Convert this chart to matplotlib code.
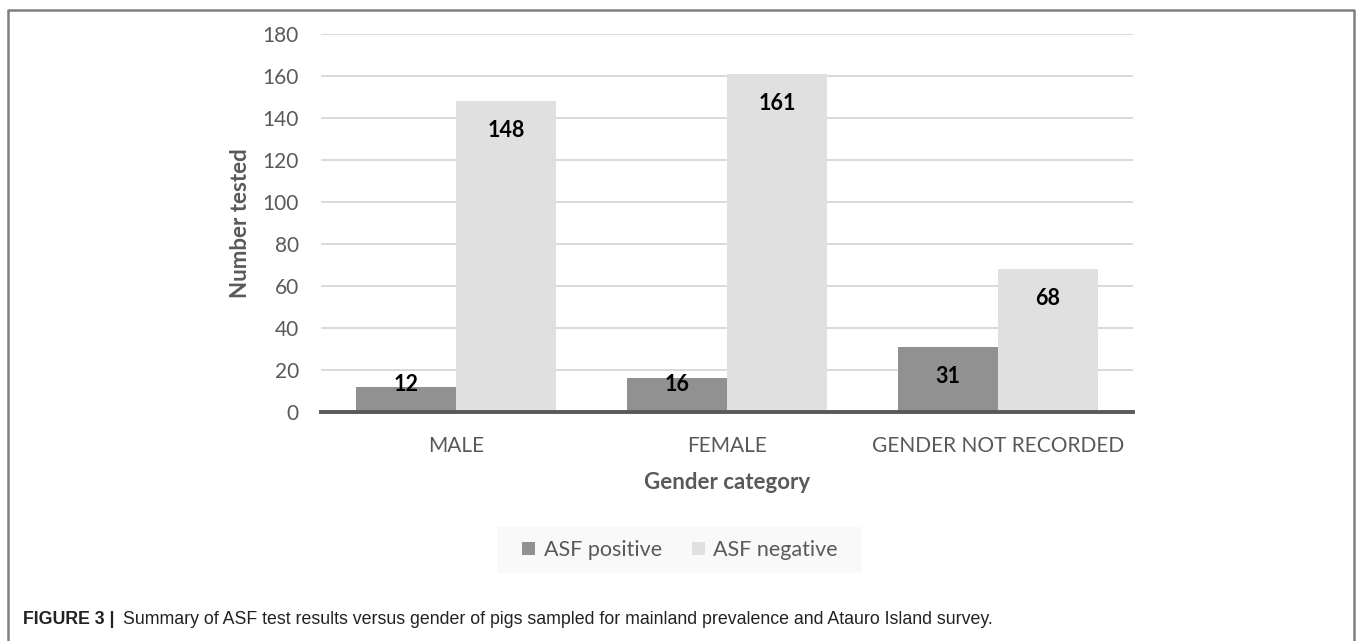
import numpy as np
import matplotlib
matplotlib.use('Agg')
import matplotlib.pyplot as plt
from matplotlib.patches import Rectangle

# data
categories = ['MALE', 'FEMALE', 'GENDER NOT RECORDED']
asf_positive = [12, 16, 31]
asf_negative = [148, 161, 68]
series_names = ['ASF positive', 'ASF negative']
yticks = [0, 20, 40, 60, 80, 100, 120, 140, 160, 180]

plt.rcParams['font.family'] = ['Lato', 'DejaVu Sans']
txt = '#595959'
W, H = 1357, 641

fig = plt.figure(figsize=(W / 100, H / 100), dpi=100)
ax = fig.add_axes([321 / W, 1 - 412 / H, (1133 - 321) / W, (412 - 34) / H])

x = np.arange(len(categories))
w = 0.37
b1 = ax.bar(x - w / 2, asf_positive, w, color='#919191', label=series_names[0], zorder=2)
b2 = ax.bar(x + w / 2, asf_negative, w, color='#e0e0e0', label=series_names[1], zorder=2)

# value labels, Excel "inside end" style
for bars, vals in [(b1, asf_positive), (b2, asf_negative)]:
    for r, v in zip(bars, vals):
        ax.text(r.get_x() + r.get_width() / 2, max(v - 14, 13), str(v),
                ha='center', va='center', fontsize=15.5, fontweight='bold', color='black', zorder=3)

ax.set_xlim(-0.5, 2.5)
ax.set_ylim(0, 180)
ax.set_yticks(yticks)
ax.yaxis.grid(True, color='#d9d9d9', lw=1.4, zorder=0)
ax.set_axisbelow(True)
for s in ['top', 'right', 'left']:
    ax.spines[s].set_visible(False)
ax.spines['bottom'].set_color('#595959')
ax.spines['bottom'].set_linewidth(2.8)
ax.spines['bottom'].set_zorder(4)
ax.tick_params(axis='both', length=0, labelsize=15, labelcolor=txt)
ax.tick_params(axis='y', pad=16)
ax.tick_params(axis='x', pad=17)
ax.set_xticks(x)
ax.set_xticklabels(categories)
ax.set_ylabel('Number tested', fontsize=16, fontweight='bold', color=txt, labelpad=8)
ax.set_xlabel('Gender category', fontsize=16, fontweight='bold', color=txt, labelpad=12)

# legend with its faint background
fig.add_artist(Rectangle((497 / W, 1 - 573 / H), (862 - 497) / W, 46 / H,
                         transform=fig.transFigure, facecolor='#f9f9f9', edgecolor='none', zorder=0))
leg = fig.legend(handles=[b1, b2], loc='center', bbox_to_anchor=(680 / W, 1 - 550 / H),
                 ncol=2, frameon=False, fontsize=15.5, handlelength=0.6, handleheight=0.6,
                 handletextpad=0.4, columnspacing=1.4)
for t in leg.get_texts():
    t.set_color(txt)

# outer frame (left, top, right)
fig.add_artist(plt.Line2D([8 / W, 8 / W, 1354 / W, 1354 / W],
                          [0, 1 - 10 / H, 1 - 10 / H, 0],
                          transform=fig.transFigure, color='#7f7f7f', lw=1.8))

fig.text(23 / W, 1 - 619 / H, 'FIGURE 3 |', fontsize=12.8, fontweight='bold',
         family='Liberation Sans', color='#222222', va='center')
fig.text(123 / W, 1 - 619 / H,
         'Summary of ASF test results versus gender of pigs sampled for mainland prevalence and Atauro Island survey.',
         fontsize=12.8, family='Liberation Sans', color='#222222', va='center')

fig.savefig('out.png', dpi=100)
